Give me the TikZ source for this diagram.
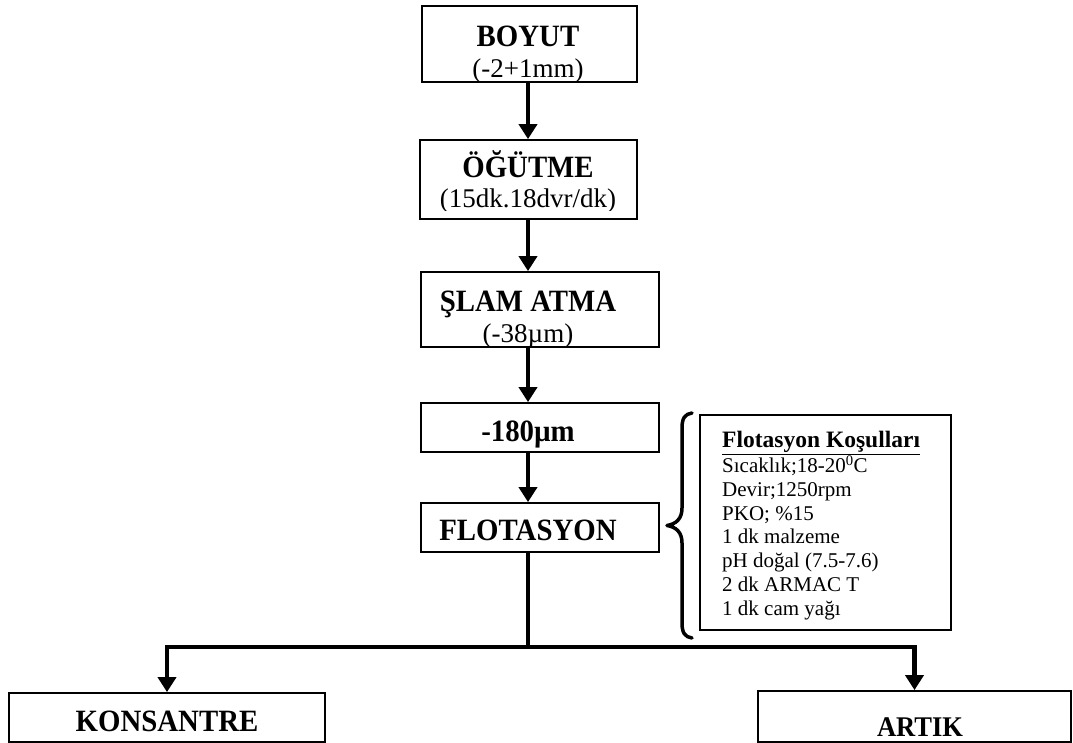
\documentclass[tikz,border=0pt]{standalone}
\usepackage{fontspec}
\setmainfont{Liberation Serif}
\newfontfamily\boxfont[FakeStretch=0.93]{Liberation Serif}
\usetikzlibrary{arrows.meta,calc}
\begin{document}
\begin{tikzpicture}[x=1pt,y=-1pt,
  box/.style={draw, line width=1.8pt, rectangle, inner sep=0pt},
  ttl/.style={anchor=base, inner sep=0pt, font=\boxfont\fontsize{31}{32}\selectfont\bfseries},
  sub/.style={anchor=base, inner sep=0pt, font=\fontsize{27}{28}\selectfont},
  conn/.style={line width=4pt},
  arr/.style={conn, -{Triangle[width=18pt,length=15pt]}},
  bracestroke/.style={line width=3.5pt, line cap=round, line join=round}]
\useasboundingbox (0,0) rectangle (1073,743);

% axis of the main process line
\coordinate (spine) at (528,0);
\coordinate (split) at (528,647);

% process boxes
\node[box, minimum width=215pt, minimum height=76pt] (boyut) at (529.5,44) {};
\node[box, minimum width=217pt, minimum height=79pt] (ogutme) at (528.5,179.5) {};
\node[box, minimum width=238pt, minimum height=75pt] (slam) at (540,309.5) {};
\node[box, minimum width=238pt, minimum height=49pt] (m180) at (540,427.5) {};
\node[box, minimum width=238pt, minimum height=49pt] (flot) at (540,527.5) {};
\node[box, minimum width=316pt, minimum height=49pt] (kons) at (167,717.5) {};
\node[box, minimum width=313pt, minimum height=51pt] (artik) at (914.5,716.5) {};
\node[box, minimum width=251pt, minimum height=215pt] (cond) at (825.5,522.5) {};

% box texts, cut off at the lower border of their boxes
\begin{scope}
  \clip (boyut.north west) rectangle ($(boyut.south east)+(0,-2)$);
  \node[ttl] (boyutT) at (528,46.7) {BOYUT};
  \node[sub] (boyutS) at (528,77.5) {(-2+1mm)};
\end{scope}
\begin{scope}
  \clip (ogutme.north west) rectangle ($(ogutme.south east)+(0,-9)$);
  \node[ttl] (ogutmeT) at (528,177.5) {ÖĞÜTME};
  \node[sub] (ogutmeS) at (528,208) {(15dk.18dvr/dk)};
\end{scope}
\begin{scope}
  \clip (slam.north west) rectangle ($(slam.south east)+(0,-2)$);
  \node[ttl] (slamT) at (528,311) {ŞLAM ATMA};
  \node[sub] (slamS) at (528,342) {(-38µm)};
\end{scope}
\node[ttl] (m180T) at (528,441) {-180µm};
\node[ttl] (flotT) at (528,540) {FLOTASYON};
\node[ttl] (konsT) at (167,731.7) {KONSANTRE};
\node[ttl, font=\boxfont\fontsize{28.5}{30}\selectfont\bfseries] (artikT) at (920,736.5) {ARTIK};

% flotation conditions
\node[anchor=north west, inner sep=0pt, align=left,
      font=\fontsize{21}{23.7}\selectfont] (condT) at (722,431)
  {{\fontsize{23.5}{25}\selectfont\textbf{\underline{Flotasyon Koşulları}}}\\
   Sıcaklık;18-20\textsuperscript{0}C\\
   Devir;1250rpm\\
   PKO; \%15\\
   1 dk malzeme\\
   pH doğal (7.5-7.6)\\
   2 dk ARMAC T\\
   1 dk cam yağı};

% brace grouping the last two steps with their conditions
\draw[bracestroke] (692,413) .. controls (685,414) and (682,418) .. (682,428)
  -- (682,508) .. controls (682,519) and (676,524) .. (667,525.5)
  .. controls (676,527) and (682,532) .. (682,543)
  -- (682,623) .. controls (682,633) and (685,637) .. (692,638);

% connectors
\draw[arr] (boyut.south -| spine) -- (ogutme.north -| spine);
\draw[arr] (ogutme.south -| spine) -- (slam.north -| spine);
\draw[arr] (slam.south -| spine) -- (m180.north -| spine);
\draw[arr] (m180.south -| spine) -- (flot.north -| spine);
\draw[conn] (flot.south -| spine) -- (split);
\draw[arr, line width=4.5pt] (split) -| (kons.north);
\draw[arr, line width=4.5pt] (split) -| (artik.north);
\end{tikzpicture}
\end{document}
